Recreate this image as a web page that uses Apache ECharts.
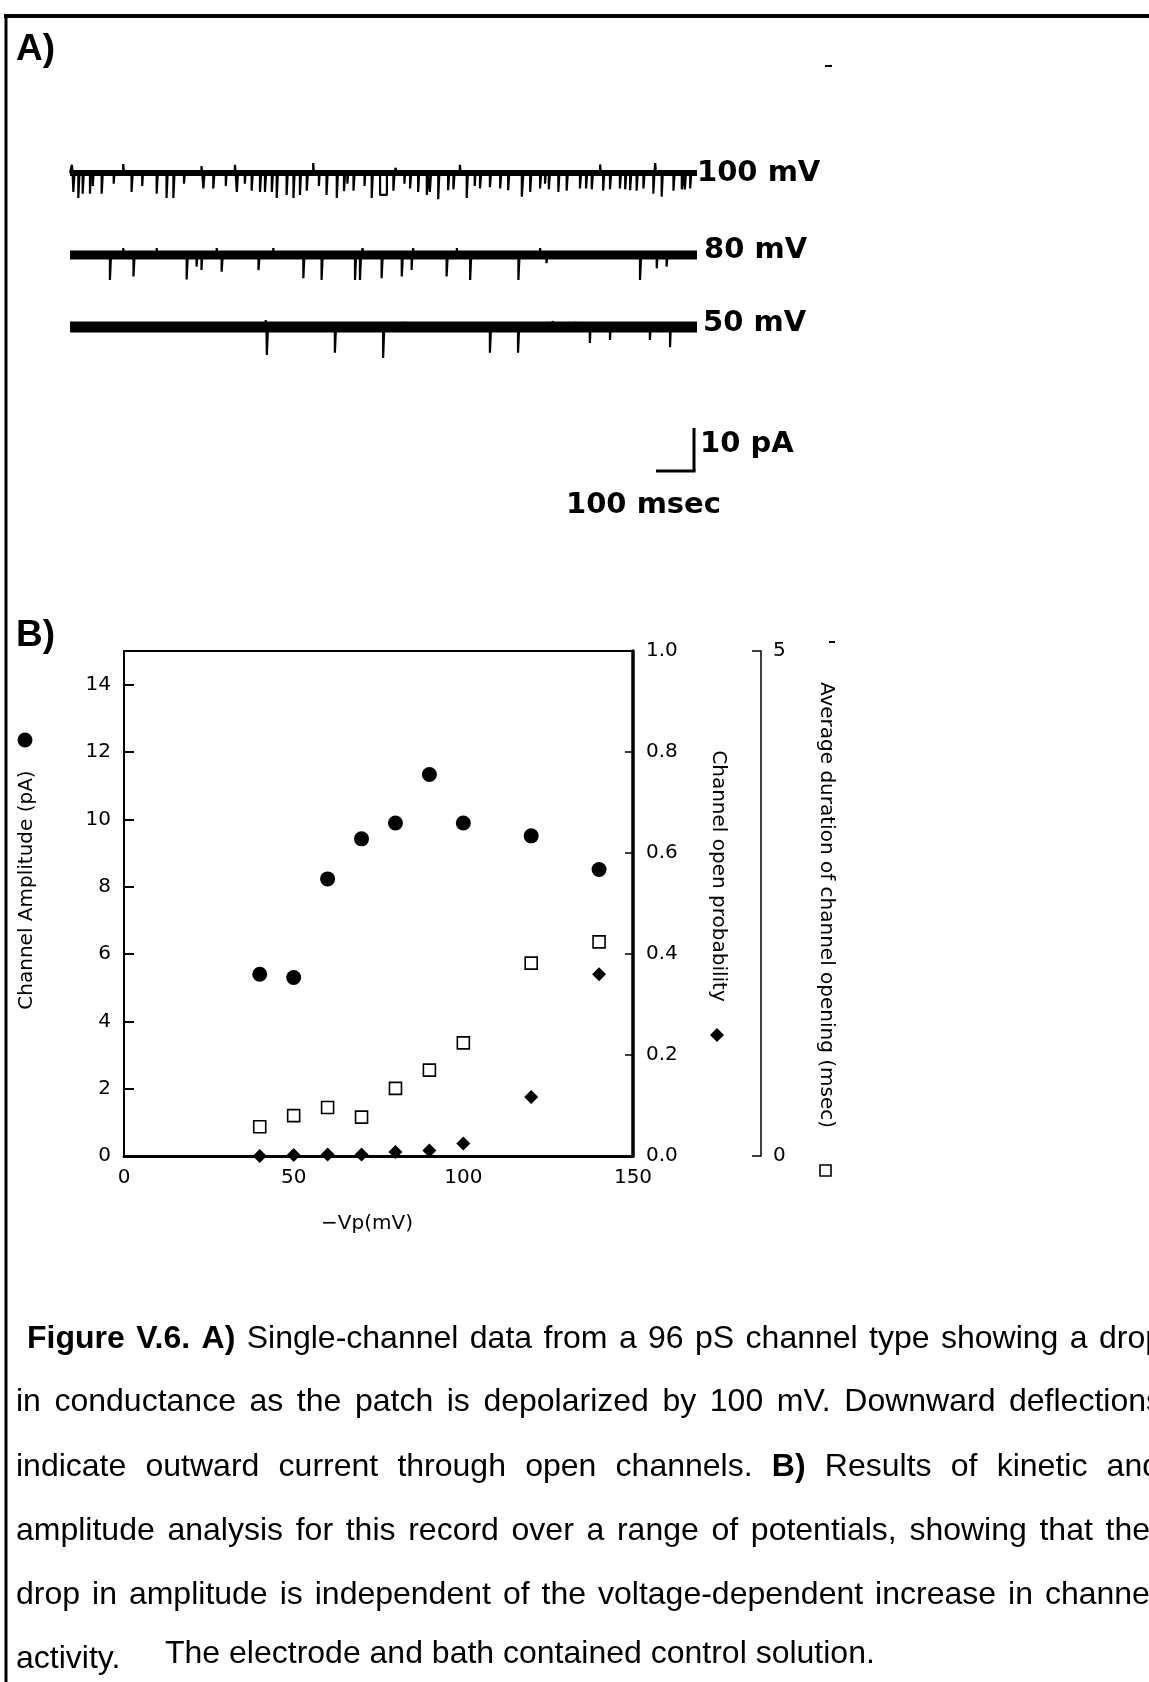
<!DOCTYPE html>
<html><head><meta charset="utf-8">
<script src="https://cdn.jsdelivr.net/npm/echarts@6/dist/echarts.min.js"></script>
<style>html,body{margin:0;padding:0;background:#fff}#c{width:1149px;height:1682px}</style>
</head><body><div id="c"></div>
<script>
// ---------- Panel B data ----------
const potentials = [40, 50, 60, 70, 80, 90, 100, 120, 140];           // -Vp (mV)
const amplitude = [5.40, 5.30, 8.23, 9.42, 9.89, 11.33, 9.89, 9.51, 8.51]; // pA
const openProbability = [0.000, 0.002, 0.003, 0.003, 0.008, 0.011, 0.025, 0.117, 0.360];
const openDuration = [0.29, 0.40, 0.48, 0.385, 0.67, 0.85, 1.12, 1.91, 2.12]; // msec
const xRange = [0, 150], xStep = 50;
const ampRange = [0, 15], ampStep = 2;
const probRange = [0, 1], probStep = 0.2;
const durRange = [0, 5], durStep = 5;

// ---------- Panel A data: single-channel events [time ms, amplitude pA, duration ms] ----------
const traceDuration = 1650;
const traceLabels = ['100 mV', '80 mV', '50 mV'];
const events100 = [[5,1.9,2],[8.8,-4.4,3],[21.9,-5.8,3],[33.3,-4.8,3],[52.6,-4.8,2],[60,-3,2],[83.3,-4.8,3],[115,-2.5,2],[140,2.1,2],[162,-4.4,3],[190,-3,2],[228,-4.8,3],[254,-5.8,3],[272,-5.8,3],[300,-2.5,2],[346,1.6,2],[351,-3.6,3],[377,-3.6,3],[410,-3,2],[434,1.9,2],[439,-4.4,3],[460,-2.5,2],[478,-4.1,3],[500,-4.4,3],[513,-4.4,3],[531,-4.4,3],[544,-5.8,3],[570,-5.1,3],[588,-5.8,3],[605,-5.1,3],[623,-4.1,3],[640,2.3,2],[655,-3,2],[675,-5.1,3],[702,-5.8,3],[721,-4.2,3],[730,-2.5,2],[746,-4.1,3],[775,-3,2],[794,-5.8,3],[816,-5.1,18],[851,-4.1,3],[857,1.2,2],[880,-2.5,2],[895,-3.6,3],[916,-4.4,3],[939,-5.1,3],[947,-4.4,3],[969,-6.1,3],[995,-4.0,3],[1009,-3.8,3],[1026,1.9,2],[1044,-5.8,3],[1065,-3,2],[1079,-3.6,3],[1105,-3.3,3],[1132,-3.6,3],[1153,-4.0,3],[1189,-5.5,4],[1211,-4.4,3],[1237,-3.6,3],[1250,-2.5,2],[1260,-3.8,3],[1285,-4.4,3],[1307,-4.1,3],[1342,-3.6,3],[1358,-3.6,3],[1373,-3.8,3],[1395,2.0,2],[1403,-4.1,3],[1421,-3.8,3],[1447,-3.6,3],[1461,-3.8,3],[1474,-4.0,3],[1491,-4.1,3],[1509,-3.6,3],[1535,-4.8,3],[1540,2.3,2],[1557,-5.5,3],[1588,-4.1,3],[1610,-3.8,3],[1618,-3.8,3],[1632,-3.6,3]];
const events80 = [[105,-5.8,3],[140,1.6,2],[167,-5.0,3],[228,1.6,2],[307,-5.7,3],[333,-2.7,2],[346,-3.5,2],[386,1.6,2],[399,-3.9,3],[496,-3.5,3],[535,1.6,2],[614,-5.4,3],[662,-5.8,3],[750,-5.8,3],[763,-5.8,3],[770,1.6,2],[820,-5.4,3],[873,-5.0,3],[899,-3.5,2],[903,1.6,2],[991,-5.0,3],[1018,1.6,2],[1053,-5.8,3],[1180,-5.8,3],[1237,1.6,2],[1254,-1.9,2],[1500,-5.8,3],[1544,-3.1,2],[1570,-2.7,2]];
const events50 = [[515,1.6,2],[518,-6.5,3],[697,-6.0,3],[824,-7.2,3],[880,1.2,2],[1105,-6.0,3],[1179,-6.0,3],[1270,1.4,2],[1330,1.2,2],[1368,-3.7,2],[1421,-3.0,2],[1526,-3.0,2],[1579,-4.7,2]];
const scaleBarMs = 100, scaleBarPA = 10;

// ---------- Caption ----------
const captionLines = [
  [['b','Figure V.6. A)'],['r','Single-channel data from a 96 pS channel type  showing a drop']],
  [['r','in conductance as the patch is depolarized by 100 mV.  Downward deflections']],
  [['r','indicate outward current through open channels.'],['b','B)'],['r','Results of kinetic and']],
  [['r','amplitude analysis for this record over a range of potentials, showing that the']],
  [['r','drop in amplitude is independent of  the voltage-dependent increase in channel']]
];
const captionLast = ['activity.', 'The electrode and bath contained control solution.'];

// ---------- layout ----------
const FB = '"DejaVu Sans", sans-serif';
const TICK = 20;
const plot = {left: 124, top: 651, width: 509, height: 505};
const traceGrid = {left: 70, width: 627, half: 43};
const traceBase = [173, 255, 327];
const bandW = [6, 9, 11];

function buildTrace(ev) {
  const pts = [[0, 0]];
  ev.slice().sort((a, b) => a[0] - b[0]).forEach(([t, a, w]) => {
    pts.push([t, 0], [t, a], [t + w, a], [t + w, 0]);
  });
  pts.push([traceDuration, 0]);
  return pts;
}
const traceEvents = [events100, events80, events50];

const grids = [{left: plot.left, top: plot.top, width: plot.width, height: plot.height, show: true, borderColor: '#000', borderWidth: 2}];
const xAxes = [{
  gridIndex: 0, type: 'value', min: xRange[0], max: xRange[1], interval: xStep,
  axisLine: {show: true, onZero: false, lineStyle: {color: '#000', width: 3}},
  axisTick: {show: false}, splitLine: {show: false},
  axisLabel: {margin: 12, fontSize: TICK, color: '#000', fontFamily: FB}
}];
const yAxes = [
  {gridIndex: 0, type: 'value', position: 'left', min: ampRange[0], max: ampRange[1], interval: ampStep,
   axisLine: {show: true, lineStyle: {color: '#000', width: 2}},
   axisTick: {show: true, inside: true, length: 10, lineStyle: {color: '#000', width: 2}},
   axisLabel: {margin: 13, fontSize: TICK, color: '#000', fontFamily: FB, showMaxLabel: false,
               formatter: v => (v > 14 ? '' : String(v))},
   splitLine: {show: false}},
  {gridIndex: 0, type: 'value', position: 'right', min: probRange[0], max: probRange[1], interval: probStep,
   axisLine: {show: true, lineStyle: {color: '#000', width: 3.5}},
   axisTick: {show: true, inside: true, length: 8, lineStyle: {color: '#000', width: 1.5}},
   axisLabel: {margin: 13, fontSize: TICK, color: '#000', fontFamily: FB, formatter: v => v.toFixed(1)},
   splitLine: {show: false}},
  {gridIndex: 0, type: 'value', position: 'right', offset: 128, min: durRange[0], max: durRange[1], interval: durStep,
   axisLine: {show: true, lineStyle: {color: '#000', width: 1.5}},
   axisTick: {show: true, inside: true, length: 9, lineStyle: {color: '#000', width: 1.5}},
   axisLabel: {margin: 12, fontSize: TICK, color: '#000', fontFamily: FB},
   splitLine: {show: false}}
];
const series = [
  {type: 'scatter', xAxisIndex: 0, yAxisIndex: 0, clip: false, symbol: 'circle', symbolSize: 15,
   itemStyle: {color: '#000', opacity: 1}, data: potentials.map((v, i) => [v, amplitude[i]])},
  {type: 'scatter', xAxisIndex: 0, yAxisIndex: 2, clip: false, symbol: 'rect', symbolSize: 12,
   itemStyle: {color: '#fff', borderColor: '#000', borderWidth: 1.6, opacity: 1}, data: potentials.map((v, i) => [v, openDuration[i]])},
  {type: 'scatter', xAxisIndex: 0, yAxisIndex: 1, clip: false, symbol: 'diamond', symbolSize: 14,
   itemStyle: {color: '#000', opacity: 1}, data: potentials.map((v, i) => [v, openProbability[i]])}
];
traceEvents.forEach((ev, k) => {
  grids.push({left: traceGrid.left, width: traceGrid.width, top: traceBase[k] - traceGrid.half, height: traceGrid.half * 2});
  xAxes.push({gridIndex: k + 1, type: 'value', min: 0, max: traceDuration, show: false});
  yAxes.push({gridIndex: k + 1, type: 'value', min: -10, max: 10, show: false});
  series.push({type: 'line', xAxisIndex: k + 1, yAxisIndex: k + 3, symbol: 'none', silent: true,
    lineStyle: {color: '#000', width: bandW[k]}, data: [[0, 0], [traceDuration, 0]]});
  series.push({type: 'line', xAxisIndex: k + 1, yAxisIndex: k + 3, symbol: 'none', silent: true,
    lineStyle: {color: '#000', width: 2.2}, data: buildTrace(ev)});
});

const chart = echarts.init(document.getElementById('c'), null, {renderer: 'canvas', width: 1149, height: 1682});
chart.setOption({animation: false, backgroundColor: '#fff', grid: grids, xAxis: xAxes, yAxis: yAxes, series: series});

// ---------- graphics: text, frame, scale bars, caption ----------
const g = [];
function txt(text, x, y, font, opts) {
  g.push(Object.assign({type: 'text', x: x, y: y, silent: true,
    style: Object.assign({text: text, font: font, fill: '#000', align: 'left', verticalAlign: 'middle'}, (opts && opts.style) || {})},
    opts && opts.rotation !== undefined ? {rotation: opts.rotation} : {}));
}
function line(x1, y1, x2, y2, w) {
  g.push({type: 'line', silent: true, shape: {x1: x1, y1: y1, x2: x2, y2: y2}, style: {stroke: '#000', lineWidth: w}});
}
// frame
line(4, 16, 1149, 16, 4);
line(6, 14, 6, 1682, 3);
// stray marks
line(825, 66, 832, 66, 2);
line(829, 642, 835, 642, 2);
// panel letters
txt('A)', 16, 50, 'bold 37px "Liberation Sans", Arial, sans-serif');
txt('B)', 16, 636, 'bold 37px "Liberation Sans", Arial, sans-serif');
// trace labels
const TL = 'bold 29px "DejaVu Sans", sans-serif';
txt(traceLabels[0], 697, 173, TL);
txt(traceLabels[1], 704, 250, TL);
txt(traceLabels[2], 703, 323, TL);
// scale bars through the trace scale
const p0 = chart.convertToPixel({xAxisIndex: 1, yAxisIndex: 3}, [0, 0]);
const p1 = chart.convertToPixel({xAxisIndex: 1, yAxisIndex: 3}, [scaleBarMs, scaleBarPA]);
const barW = Math.abs(p1[0] - p0[0]), barH = Math.abs(p1[1] - p0[1]);
const cx = 694, cy = 471;
line(cx - barW, cy, cx + 1.5, cy, 3);
line(cx, cy, cx, cy - barH, 3);
txt(scaleBarPA + ' pA', 700, 444, TL);
txt(scaleBarMs + ' msec', 566, 505, TL);
// axis titles and legend keys
const TF = '20px "DejaVu Sans", sans-serif';
txt('Channel Amplitude (pA)', 27, 890, TF, {rotation: Math.PI / 2, style: {align: 'center'}});
txt('Channel open probability', 718, 876, TF, {rotation: -Math.PI / 2, style: {align: 'center'}});
txt('Average duration of channel opening (msec)', 826, 905, TF, {rotation: -Math.PI / 2, style: {align: 'center'}});
txt('\u2212Vp(mV)', 367, 1224, TF, {style: {align: 'center'}});
g.push({type: 'circle', silent: true, shape: {cx: 25, cy: 740, r: 7.5}, style: {fill: '#000'}});
g.push({type: 'polygon', silent: true, shape: {points: [[717, 1028], [724, 1035], [717, 1042], [710, 1035]]}, style: {fill: '#000'}});
g.push({type: 'rect', silent: true, shape: {x: 820, y: 1165, width: 11, height: 11}, style: {fill: '#fff', stroke: '#000', lineWidth: 1.6}});

// caption (justified, like the typed page)
const CS = 32;
const fontR = CS + 'px "Liberation Sans", Arial, sans-serif';
const fontBd = 'bold ' + fontR;
const mctx = document.createElement('canvas').getContext('2d');
function measure(t, f) { mctx.font = f; return mctx.measureText(t).width; }
const capLeft = [27, 16, 16, 16, 16];
const capRight = [1163, 1162, 1160, 1150, 1157];
const capBase = [1355, 1418, 1483, 1547, 1611];
captionLines.forEach((segs, li) => {
  const words = [];
  segs.forEach(([kind, t]) => t.split(/\s+/).filter(Boolean).forEach(w => words.push({w: w, f: kind === 'b' ? fontBd : fontR})));
  words.forEach(o => { o.width = measure(o.w, o.f); });
  const total = words.reduce((s, o) => s + o.width, 0);
  const space = measure(' ', fontR);
  let gap = (capRight[li] - capLeft[li] - total) / (words.length - 1);
  if (gap < space * 0.6) gap = space * 0.6;
  let x = capLeft[li];
  words.forEach(o => {
    g.push({type: 'text', x: x, y: capBase[li], silent: true,
      style: {text: o.w, font: o.f, fill: '#000', align: 'left', verticalAlign: 'bottom'}});
    x += o.width + gap;
  });
});
g.push({type: 'text', x: 16, y: 1675, silent: true, style: {text: captionLast[0], font: fontR, fill: '#000', align: 'left', verticalAlign: 'bottom'}});
g.push({type: 'text', x: 165, y: 1670, silent: true, style: {text: captionLast[1], font: fontR, fill: '#000', align: 'left', verticalAlign: 'bottom'}});

chart.setOption({graphic: {elements: g}});
</script>
</body></html>
